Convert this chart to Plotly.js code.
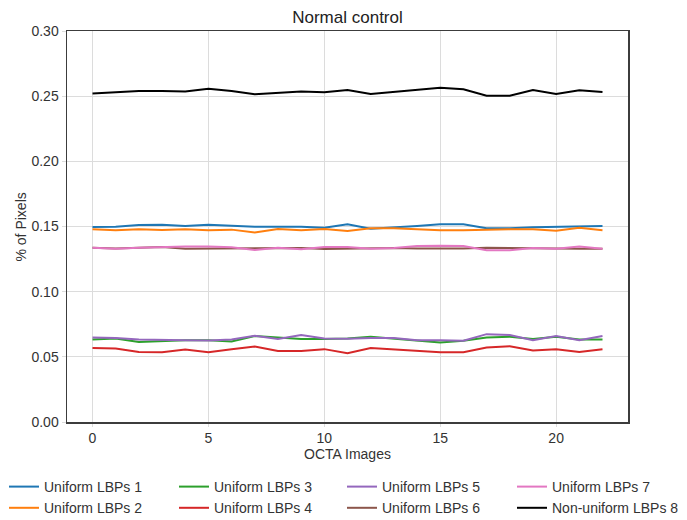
<!DOCTYPE html>
<html>
<head>
<meta charset="utf-8">
<script src="https://cdn.plot.ly/plotly-3.0.1.min.js"></script>
<style>html,body{margin:0;padding:0;background:#fff;}#chart{width:687px;height:520px;}</style>
</head>
<body>
<div id="chart"></div>
<script>
var images = [0,1,2,3,4,5,6,7,8,9,10,11,12,13,14,15,16,17,18,19,20,21,22];

var seriesNames = ["Uniform LBPs 1","Uniform LBPs 2","Uniform LBPs 3","Uniform LBPs 4",
                   "Uniform LBPs 5","Uniform LBPs 6","Uniform LBPs 7","Non-uniform LBPs 8"];

var lbp1 = [0.1496,0.1499,0.1512,0.1514,0.1504,0.1514,0.1506,0.1499,0.1499,0.1499,0.1491,0.1517,
            0.1483,0.1491,0.1504,0.1517,0.1517,0.1486,0.1486,0.1494,0.1496,0.1501,0.1504];
var lbp2 = [0.1478,0.1471,0.1478,0.1473,0.1478,0.1471,0.1476,0.1455,0.1481,0.1471,0.1481,0.1465,
            0.1486,0.1486,0.1478,0.1471,0.1471,0.1476,0.1478,0.1478,0.1468,0.1491,0.1471];
var lbp3 = [0.0633,0.0641,0.0613,0.0623,0.0628,0.0628,0.0618,0.0659,0.0649,0.0636,0.0636,0.0641,
            0.0654,0.0641,0.0623,0.0610,0.0623,0.0649,0.0654,0.0636,0.0654,0.0633,0.0633];
var lbp4 = [0.0567,0.0564,0.0538,0.0536,0.0556,0.0536,0.0559,0.0580,0.0544,0.0544,0.0559,0.0527,
            0.0568,0.0559,0.0546,0.0536,0.0536,0.0572,0.0582,0.0549,0.0559,0.0538,0.0559];
var lbp5 = [0.0649,0.0644,0.0633,0.0628,0.0628,0.0626,0.0633,0.0662,0.0636,0.0667,0.0641,0.0638,
            0.0644,0.0644,0.0628,0.0628,0.0623,0.0674,0.0667,0.0628,0.0659,0.0628,0.0659];
var lbp6 = [0.1337,0.1332,0.1337,0.1342,0.1330,0.1332,0.1332,0.1335,0.1337,0.1335,0.1327,0.1330,
            0.1337,0.1335,0.1332,0.1330,0.1332,0.1337,0.1337,0.1332,0.1332,0.1330,0.1330];
var lbp7 = [0.1337,0.1330,0.1337,0.1343,0.1347,0.1347,0.1340,0.1320,0.1337,0.1325,0.1343,0.1342,
            0.1330,0.1335,0.1350,0.1353,0.1350,0.1317,0.1317,0.1335,0.1330,0.1347,0.1330];
var lbp8 = [0.2520,0.2530,0.2540,0.2540,0.2535,0.2556,0.2540,0.2514,0.2525,0.2535,0.2530,0.2548,
            0.2517,0.2532,0.2548,0.2564,0.2553,0.2504,0.2504,0.2548,0.2517,0.2545,0.2532];

var yTicks = [0.00,0.05,0.10,0.15,0.20,0.25,0.30];
var xTicks = [0,5,10,15,20];

var allSeries = [lbp1,lbp2,lbp3,lbp4,lbp5,lbp6,lbp7,lbp8];
var colors = ["#1f77b4","#ff7f0e","#2ca02c","#d62728","#9467bd","#8c564b","#e377c2","#000000"];
// legend columns: two series per column, four columns
var legendIds = ["legend","legend","legend2","legend2","legend3","legend3","legend4","legend4"];

var traces = allSeries.map(function(s,i){
  return {
    x: images, y: s, type: "scatter", mode: "lines",
    name: seriesNames[i], legend: legendIds[i],
    line: {color: colors[i], width: 2}
  };
});

var fontFam = "Liberation Sans, Arial, sans-serif";
function legendAt(px){
  return {
    orientation: "v", xref: "container", yref: "container",
    x: px/687, xanchor: "left", y: 1 - 471/520, yanchor: "top",
    font: {family: fontFam, size: 14, color: "#333"},
    bgcolor: "rgba(0,0,0,0)", borderwidth: 0, traceorder: "normal", tracegroupgap: 0
  };
}
var layout = {
  width: 687, height: 520,
  margin: {l: 67, r: 59, t: 31, b: 98, autoexpand: false},
  paper_bgcolor: "#fff", plot_bgcolor: "#fff",
  font: {family: fontFam, size: 14, color: "#333"},
  title: {text: "Normal control", font: {size: 17, color: "#222"}, x: 0.5, xref: "paper", y: 1 - 17/520, yanchor: "middle"},
  xaxis: {
    range: [-1.1, 23.1], tickvals: xTicks, ticktext: xTicks.map(String),
    showgrid: true, gridcolor: "#dcdcdc", gridwidth: 1, zeroline: false,
    showline: true, linecolor: "#3c3c3c", linewidth: 1.5, mirror: true,
    ticks: "outside", ticklen: 3, tickcolor: "#dcdcdc",
    tickfont: {size: 14, color: "#333"},
    title: {text: "OCTA Images", font: {size: 14, color: "#333"}, standoff: 0},
    automargin: false
  },
  yaxis: {
    range: [0, 0.30], tickvals: yTicks, ticktext: yTicks.map(function(v){return v.toFixed(2);}),
    showgrid: true, gridcolor: "#dcdcdc", gridwidth: 1, zeroline: false,
    showline: true, linecolor: "#3c3c3c", linewidth: 1.5, mirror: true,
    ticks: "outside", ticklen: 4, tickcolor: "#dcdcdc",
    tickfont: {size: 14, color: "#333"},
    automargin: false
  },
  annotations: [{
    text: "% of Pixels", textangle: -90, showarrow: false,
    xref: "paper", x: (20 - 67) / 561, xanchor: "center",
    yref: "paper", y: 0.5, yanchor: "middle",
    font: {size: 14, color: "#333"}
  }],
  showlegend: true,
  legend: legendAt(4),
  legend2: legendAt(174),
  legend3: legendAt(342),
  legend4: legendAt(512)
};

Plotly.newPlot("chart", traces, layout, {staticPlot: true, displayModeBar: false});
</script>
</body>
</html>
